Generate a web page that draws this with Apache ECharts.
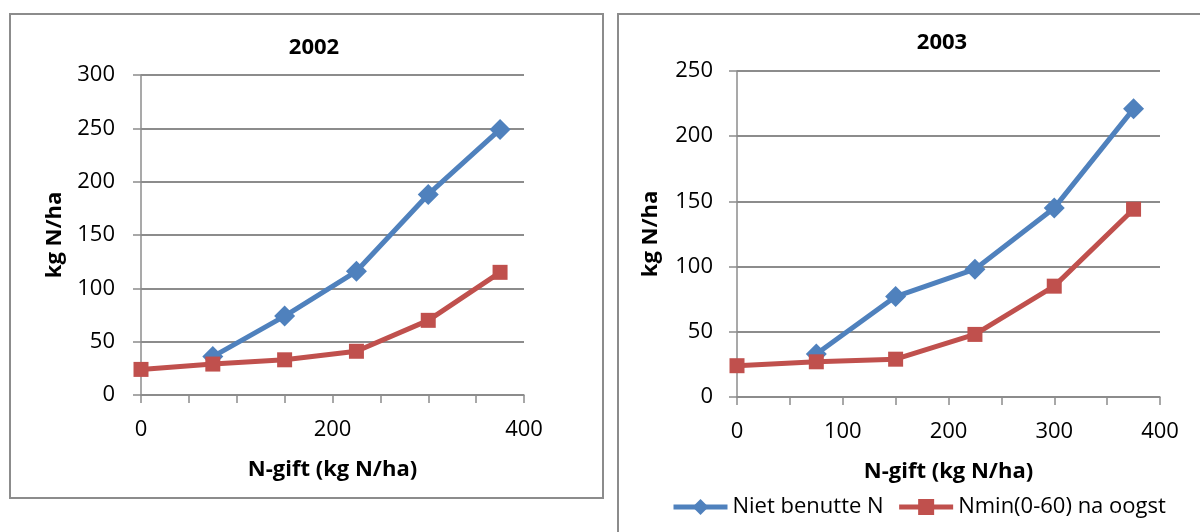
<!DOCTYPE html>
<html>
<head>
<meta charset="utf-8">
<script src="https://cdn.jsdelivr.net/npm/echarts@6/dist/echarts.min.js"></script>
<style>
  html, body { margin: 0; padding: 0; background: #ffffff; }
  #chart { width: 1200px; height: 532px; }
</style>
</head>
<body>
<div id="chart"></div>
<script>
// N-gift levels (kg N/ha)
const nGift = [0, 75, 150, 225, 300, 375];

// 2002
const nietBenutte2002 = [null, 36, 74, 116, 188, 249];
const nmin2002 = [24, 29, 33, 41, 70, 115];

// 2003
const nietBenutte2003 = [null, 33, 77, 98, 145, 221];
const nmin2003 = [24, 27, 29, 48, 85, 144];

const seriesNames = ['Niet benutte N', 'Nmin(0-60) na oogst'];
const panelTitles = ['2002', '2003'];
const yAxisName = 'kg N/ha';
const xAxisName = 'N-gift (kg N/ha)';

const BLUE = '#4F81BD';
const RED = '#C0504D';
const GRID_GRAY = '#8c8c8c';
const FONT = '"Open Sans", "Liberation Sans", sans-serif';
const FS = 22;

function pairs(xs, ys) {
  return xs.map((x, i) => [x, ys[i]]);
}

function xAxisCfg(gridIndex, labelStep) {
  return {
    type: 'value', gridIndex, min: 0, max: 400, interval: 50,
    name: xAxisName, nameLocation: 'middle', nameGap: 64,
    nameTextStyle: { fontFamily: FONT, fontWeight: 'bold', fontSize: FS, color: '#000' },
    axisLine: { show: true, lineStyle: { color: GRID_GRAY, width: 1.5 } },
    axisTick: { show: true, length: 8, lineStyle: { color: GRID_GRAY, width: 1.5 } },
    axisLabel: {
      margin: 24, fontFamily: FONT, fontSize: FS, color: '#000',
      formatter: v => (v % labelStep === 0 ? String(v) : '')
    },
    splitLine: { show: false }
  };
}

function yAxisCfg(gridIndex, max, labelMargin) {
  return {
    type: 'value', gridIndex, min: 0, max, interval: 50,
    name: yAxisName, nameLocation: 'middle', nameGap: 75, nameRotate: 90,
    nameTextStyle: { fontFamily: FONT, fontWeight: 'bold', fontSize: FS, color: '#000' },
    axisLine: { show: true, lineStyle: { color: GRID_GRAY, width: 1.5 } },
    axisTick: { show: true, length: 8, lineStyle: { color: GRID_GRAY, width: 1.5 } },
    axisLabel: { margin: labelMargin, fontFamily: FONT, fontSize: FS, color: '#000' },
    splitLine: { show: true, lineStyle: { color: GRID_GRAY, width: 2 } }
  };
}

function lineSeries(name, idx, data, color, symbol, size) {
  return {
    name, type: 'line', xAxisIndex: idx, yAxisIndex: idx,
    data, symbol, symbolSize: size, showSymbol: true,
    connectNulls: false, clip: false,
    lineStyle: { color, width: 5 },
    itemStyle: { color },
    emphasis: { disabled: true },
    animation: false
  };
}

const chart = echarts.init(document.getElementById('chart'), null, { renderer: 'canvas' });

chart.setOption({
  backgroundColor: '#ffffff',
  animation: false,
  grid: [
    { left: 141, top: 75, width: 383, height: 320, containLabel: false },
    { left: 737, top: 71, width: 423, height: 326, containLabel: false }
  ],
  xAxis: [xAxisCfg(0, 200), xAxisCfg(1, 100)],
  yAxis: [yAxisCfg(0, 300, 26), yAxisCfg(1, 250, 24)],
  legend: {
    left: 666, top: 491,
    itemWidth: 54, itemHeight: 20, itemGap: 13,
    lineStyle: { width: 5 },
    textStyle: { fontFamily: FONT, fontSize: FS, color: '#000' },
    data: seriesNames
  },
  graphic: [
    { type: 'rect', shape: { x: 10, y: 14, width: 593, height: 484 },
      style: { fill: 'none', stroke: '#8c8c8c', lineWidth: 2 }, silent: true },
    { type: 'rect', shape: { x: 618, y: 14, width: 600, height: 540 },
      style: { fill: 'none', stroke: '#8c8c8c', lineWidth: 2 }, silent: true },
    { type: 'text', x: 314, y: 48,
      style: { text: panelTitles[0], align: 'center', verticalAlign: 'middle',
               font: 'bold ' + FS + 'px ' + FONT, fill: '#000' } },
    { type: 'text', x: 942, y: 43,
      style: { text: panelTitles[1], align: 'center', verticalAlign: 'middle',
               font: 'bold ' + FS + 'px ' + FONT, fill: '#000' } }
  ],
  series: [
    lineSeries(seriesNames[0], 0, pairs(nGift, nietBenutte2002), BLUE, 'diamond', [21, 21]),
    lineSeries(seriesNames[1], 0, pairs(nGift, nmin2002), RED, 'rect', 15),
    lineSeries(seriesNames[0], 1, pairs(nGift, nietBenutte2003), BLUE, 'diamond', [21, 21]),
    lineSeries(seriesNames[1], 1, pairs(nGift, nmin2003), RED, 'rect', 15)
  ]
});
</script>
</body>
</html>
